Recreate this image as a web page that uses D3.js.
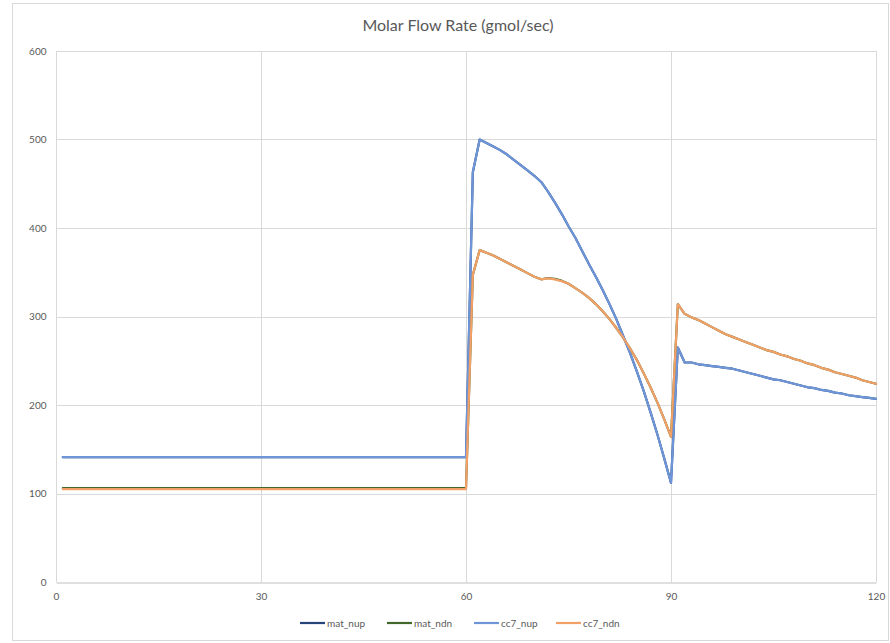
<!DOCTYPE html>
<html>
<head>
<meta charset="utf-8">
<script src="https://cdn.jsdelivr.net/npm/d3@7"></script>
<style>
  body { margin: 0; background: #fff; }
  svg { display: block; font-family: Lato, "Open Sans", sans-serif; }
</style>
</head>
<body>
<script>
// time steps 1..120
const steps = d3.range(1, 121)

const xTicks = [0, 30, 60, 90, 120]
const yTicks = [0, 100, 200, 300, 400, 500, 600]

const seriesNames = ["mat_nup", "mat_ndn", "cc7_nup", "cc7_ndn"]
const seriesColors = ["#264478", "#43682b", "#6d95d8", "#f2a066"]

const matNup = [
  141,141,141,141,141,141,141,141,141,141, 141,141,141,141,141,141,141,141,141,141,
  141,141,141,141,141,141,141,141,141,141, 141,141,141,141,141,141,141,141,141,141,
  141,141,141,141,141,141,141,141,141,141, 141,141,141,141,141,141,141,141,141,141,
  463,500,496,492,488,483,477,471,465,459, 452,441,429,416,402,389,374,359,345,330,
  314,297,278,259,238,216,192,167,140,112, 265,248,248,246,245,244,243,242,241,239,
  237,235,233,231,229,228,226,224,222,220, 219,217,216,214,213,211,210,209,208,207
]
const matNdn = [
  106,106,106,106,106,106,106,106,106,106, 106,106,106,106,106,106,106,106,106,106,
  106,106,106,106,106,106,106,106,106,106, 106,106,106,106,106,106,106,106,106,106,
  106,106,106,106,106,106,106,106,106,106, 106,106,106,106,106,106,106,106,106,106,
  347,375,372,369,365,361,357,353,349,345, 342,343.5,342.5,340.5,337,332,327,321,314,306,
  297,287,276,264,251,236,220,203,184,164, 314,303,299,296,292,288,284,280,277,274,
  271,268,265,262,260,257,255,252,250,247, 245,242,240,237,235,233,231,228,226,224
]
const cc7Nup = [
  141,141,141,141,141,141,141,141,141,141, 141,141,141,141,141,141,141,141,141,141,
  141,141,141,141,141,141,141,141,141,141, 141,141,141,141,141,141,141,141,141,141,
  141,141,141,141,141,141,141,141,141,141, 141,141,141,141,141,141,141,141,141,141,
  463,500,496,492,488,483,477,471,465,459, 452,441,429,416,402,389,374,359,345,330,
  314,297,278,259,238,216,192,167,140,112, 265,248,248,246,245,244,243,242,241,239,
  237,235,233,231,229,228,226,224,222,220, 219,217,216,214,213,211,210,209,208,207
]
const cc7Ndn = [
  105,105,105,105,105,105,105,105,105,105, 105,105,105,105,105,105,105,105,105,105,
  105,105,105,105,105,105,105,105,105,105, 105,105,105,105,105,105,105,105,105,105,
  105,105,105,105,105,105,105,105,105,105, 105,105,105,105,105,105,105,105,105,105,
  347,375,372,369,365,361,357,353,349,345, 342,343,342,340,337,332,327,321,314,306,
  297,287,276,264,251,236,220,203,184,164, 314,303,299,296,292,288,284,280,277,274,
  271,268,265,262,260,257,255,252,250,247, 245,242,240,237,235,233,231,228,226,224
]

const seriesValues = [matNup, matNdn, cc7Nup, cc7Ndn]

const w = 890
const h = 643

const svg = d3.select("body")
              .append("svg")
              .attr("width", w)
              .attr("height", h)

// chart frame
svg.append("rect")
   .attr("x", 12.5)
   .attr("y", 3.5)
   .attr("width", 876)
   .attr("height", 637)
   .attr("fill", "#fff")
   .attr("stroke", "#d9d9d9")

svg.append("text")
   .attr("x", 458)
   .attr("y", 31)
   .attr("text-anchor", "middle")
   .attr("fill", "#595959")
   .style("font-size", "16px")
   .text("Molar Flow Rate (gmol/sec)")

const x = d3.scaleLinear().domain([0, 120]).range([56, 876])
const y = d3.scaleLinear().domain([0, 600]).range([582, 51])

// gridlines
svg.append("g")
   .selectAll("line")
   .data(yTicks.filter(d => d > 0))
   .enter()
   .append("line")
   .attr("x1", x(0)).attr("x2", x(120))
   .attr("y1", d => Math.round(y(d)) + 0.5)
   .attr("y2", d => Math.round(y(d)) + 0.5)
   .attr("stroke", "#d9d9d9")

svg.append("g")
   .selectAll("line")
   .data(xTicks)
   .enter()
   .append("line")
   .attr("x1", d => Math.round(x(d)) + 0.5)
   .attr("x2", d => Math.round(x(d)) + 0.5)
   .attr("y1", y(600)).attr("y2", y(0))
   .attr("stroke", "#d9d9d9")

// axes
const xAxis = svg.append("g")
   .attr("transform", "translate(0," + (Math.round(y(0)) + 0.5) + ")")
   .call(d3.axisBottom(x).tickValues(xTicks).tickSize(0).tickPadding(10))
xAxis.select(".domain").attr("stroke", "#bfbfbf")

const yAxis = svg.append("g")
   .attr("transform", "translate(" + (Math.round(x(0)) + 0.5) + ",0)")
   .call(d3.axisLeft(y).tickValues(yTicks).tickSize(0).tickPadding(10))
yAxis.select(".domain").remove()

svg.selectAll(".tick text")
   .attr("fill", "#595959")
   .style("font-size", "10px")
   .style("font-family", "Lato, sans-serif")

// lines
const line = d3.line()
   .x((d, i) => x(steps[i]))
   .y(d => y(d))

svg.append("g")
   .selectAll("path")
   .data(seriesValues)
   .enter()
   .append("path")
   .attr("d", d => line(d))
   .attr("fill", "none")
   .attr("stroke", (d, i) => seriesColors[i])
   .attr("stroke-width", 2.2)
   .attr("stroke-linejoin", "round")
   .attr("stroke-linecap", "round")

// legend
const legendX = [300, 387, 474, 556]
const legend = svg.append("g")
   .selectAll("g")
   .data(seriesNames)
   .enter()
   .append("g")
   .attr("transform", (d, i) => "translate(" + legendX[i] + ",623)")
legend.append("line")
   .attr("x1", 0).attr("x2", 25)
   .attr("stroke", (d, i) => seriesColors[i])
   .attr("stroke-width", 2.2)
legend.append("text")
   .attr("x", 27)
   .attr("y", 4)
   .attr("fill", "#595959")
   .style("font-size", "10px")
   .text(d => d)
</script>
</body>
</html>
